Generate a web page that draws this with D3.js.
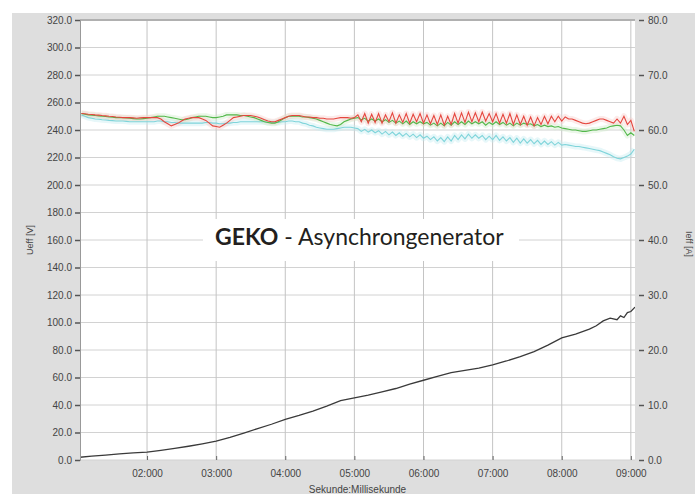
<!DOCTYPE html>
<html><head><meta charset="utf-8">
<script src="https://cdn.jsdelivr.net/npm/d3@7"></script>
<style>
html,body{margin:0;padding:0;background:#fff;}
svg{display:block;}
</style></head>
<body>
<svg id="chart" width="700" height="494"></svg>
<script>
// ---- data ----
const xTickValues = [2, 3, 4, 5, 6, 7, 8, 9];
const xTickLabels = ["02:000","03:000","04:000","05:000","06:000","07:000","08:000","09:000"];
const leftTicks = [0,20,40,60,80,100,120,140,160,180,200,220,240,260,280,300,320];
const rightTicks = [0,10,20,30,40,50,60,70,80];

// voltage samples (V), sampled every 0.05 s starting at 1.05 s (one row = one second)
const vStart = 1.05, vStep = 0.05;
const voltRed = [
 252,251.8,251.5,251.3,251,250.8,250.5,250.3,250,249.8,249.5,249.3,249,249,249,248.8,248.5,248.8,249,249,
 249,249,249,248,246,244.5,243,244,245,246.5,248,248.5,249,249,249,248,247,245,243,242.5,
 242,243.5,245,247,249,249.5,250,250.5,250.5,250.5,250,249.5,248.5,247.5,246.5,246,246,247,248,249,
 250,250.5,250.5,250.5,250,249.5,249.5,249,249,248.5,248.5,248,248,248,248.5,249,249,249,248.5,249,
 251,246,252,245,251.5,245.5,252,245,251,246,252.5,245,251,245.5,252,245,251.5,246,252,245,
 251,244.5,250.5,244,251,243.5,250,244,252,245,252.5,245.5,253,246,252.5,246,253,246.5,252,246,
 252,245,251.5,245,252,244,251,244,250,243.5,249.5,243,249,244,250,244.5,250,246,250,246.5,
 249.5,248,248,247,246,245,244.5,245,246,247,248,248,247,246,245,248,245,250,244,247,
 239];
const voltGreen = [
 252,251.5,251,250.8,250.5,250.3,250,249.8,249.5,249.3,249,249,249,248.8,248.5,248.3,248,248,248.3,248.5,
 249,249.5,250,250,250,249.5,249,248.5,248,247.5,247.5,248,249,249.5,250,250,250,249.5,249,249,
 249.5,250,251,251,251,251,250.5,250.5,250,249.5,249,248,247,246,245.5,245,245,246,247.5,249,
 250,250,250,250,249.5,249.5,249,248.5,248,247,246,245,244,243.5,243,244,246,247,248,248.5,
 249,247.5,248.5,246.5,248,246.5,248,246,247.5,245.5,247,245,246.5,244.5,246.5,244,246,244.5,246,244.5,
 245.5,243.5,245,243,245,243,245.5,243.5,246,244,246,244,246.5,244.5,246,244.5,246,243.5,245.5,244,
 246,244,245.5,243.5,245,243,245,243.5,245,244,244.5,243,244,242.5,243.5,242.5,243,242,242.5,241.5,
 241,240.5,240,240,239.5,239,239,239.5,240,240,240.5,241,241.5,242.5,243,243.5,243,240,236,238,
 236];
const voltCyan = [
 251,250,249,248.5,248,247.8,247.5,247.3,247,246.8,246.5,246.5,246.5,246.3,246,246,246,246,246,246,
 246,246,246.5,246.5,246,246,245.5,245.5,245,245,245,245,245,245,245,245,245.5,245.5,245,245,
 244.5,244.5,245,245,245.5,245.5,246,246,246,246,246,246,246,246,245.5,245.5,245.5,245.5,246,246,
 246.5,246.5,246,246,245,244.5,243.5,243,242,241.5,241,240.5,240.5,240.5,241,241.5,242,242,242,241.5,
 241,239,240.5,238.5,240,238,239.5,237,239,236.5,238.5,236,238,235.5,237.5,235,237,234.5,236.5,234,
 235.5,233,235,232,234.5,231.5,235,232,236,233,236.5,233.5,237,234,236.5,234,236,233,235.5,233,
 236,232.5,235,232,234.5,231,234,230.5,233.5,230.5,233,230,232.5,229.5,232,229.5,231.5,229,231,229,
 229.5,229,228.5,228,228,227.5,227,226.5,226,225.5,225,224,223,222,220.5,219.5,219,220,221,222.5,
 226];

// current (A)
const curTimes = [1.03,1.2,1.4,1.6,1.8,2.0,2.2,2.4,2.6,2.8,3.0,3.2,3.4,3.6,3.8,4.0,4.2,4.4,4.6,4.8,5.0,5.2,5.4,5.6,5.8,6.0,6.2,6.4,6.6,6.8,7.0,7.2,7.4,7.6,7.8,8.0,8.2,8.4,8.5,8.6,8.7,8.8,8.85,8.9,8.95,9.0,9.06];
const curValues = [0.5,0.7,0.9,1.1,1.3,1.45,1.75,2.1,2.5,2.95,3.45,4.1,4.9,5.7,6.5,7.4,8.1,8.9,9.8,10.8,11.3,11.8,12.4,13.0,13.8,14.5,15.2,15.9,16.3,16.7,17.3,18.0,18.8,19.7,20.9,22.2,22.9,23.8,24.4,25.3,25.8,25.5,26.2,25.9,26.8,27.0,27.8];

// ---- layout ----
const svg = d3.select("#chart");
const L = 80, R = 635, T = 20, B = 460;

svg.append("rect").attr("x",12).attr("y",13).attr("width",683).attr("height",481).attr("fill","#dedede");
svg.append("rect").attr("x",L).attr("y",T).attr("width",R-L).attr("height",B-T).attr("fill","#fff");

const x = d3.scaleLinear().domain([1.03, 9.06]).range([L, R]);
const yL = d3.scaleLinear().domain([0, 320]).range([B, T]);
const yR = d3.scaleLinear().domain([0, 80]).range([B, T]);

// grid
const grid = svg.append("g");
grid.selectAll("line.h").data(leftTicks).join("line")
  .attr("x1",L).attr("x2",R).attr("y1",d=>yL(d)).attr("y2",d=>yL(d))
  .attr("stroke","#d2d2d2").attr("stroke-width",1);
grid.selectAll("line.v").data(xTickValues).join("line")
  .attr("y1",T).attr("y2",B).attr("x1",d=>x(d)).attr("x2",d=>x(d))
  .attr("stroke","#c4c4c4").attr("stroke-width",1);
svg.append("line").attr("x1",L).attr("x2",R).attr("y1",T).attr("y2",T).attr("stroke","#b0b0b0").attr("stroke-width",2);

svg.append("defs").append("clipPath").attr("id","clip")
  .append("rect").attr("x",L).attr("y",T).attr("width",R-L).attr("height",B-T);

const plot = svg.append("g").attr("clip-path","url(#clip)");

function vData(arr){ return arr.map((v,i)=>({t: vStart + i*vStep, v})); }
const vLine = d3.line().x(d=>x(d.t)).y(d=>yL(d.v));

const series = [
  {data: voltCyan, color: "#7fd4da", pale: "#c4ecef"},
  {data: voltGreen, color: "#52b84a", pale: "#cdebc7"},
  {data: voltRed, color: "#e5463e", pale: "#f7cdca"}
];
series.forEach(s=>{
  plot.append("path").datum(vData(s.data)).attr("d",vLine)
    .attr("fill","none").attr("stroke",s.pale).attr("stroke-width",6).attr("stroke-opacity",0.4)
    .attr("stroke-linejoin","round");
});
series.forEach(s=>{
  plot.append("path").datum(vData(s.data)).attr("d",vLine)
    .attr("fill","none").attr("stroke",s.color).attr("stroke-width",1.1);
});

const cLine = d3.line().x((d,i)=>x(curTimes[i])).y(d=>yR(d));
plot.append("path").datum(curValues).attr("d",cLine)
  .attr("fill","none").attr("stroke","#3a3a3a").attr("stroke-width",1.3);

// axes
const axFont = "Liberation Sans, Arial, sans-serif";
const gl = svg.append("g").attr("transform",`translate(${L},0)`)
  .call(d3.axisLeft(yL).tickValues(leftTicks).tickFormat(d3.format(".1f")).tickSize(5).tickPadding(3));
const gr = svg.append("g").attr("transform",`translate(${R+4},0)`)
  .call(d3.axisRight(yR).tickValues(rightTicks).tickFormat(d3.format(".1f")).tickSize(5).tickPadding(4));
const gx = svg.append("g").attr("transform",`translate(0,${B})`)
  .call(d3.axisBottom(x).tickValues(xTickValues).tickFormat((d,i)=>xTickLabels[i]).tickSize(-4).tickPadding(10));
[gl,gr,gx].forEach(g=>{
  g.selectAll("text").attr("font-family",axFont).attr("font-size",10).attr("fill","#444");
  g.selectAll(".tick line").attr("stroke","#555").attr("stroke-width",1.5);
});
gl.select(".domain").attr("stroke","#999");
gr.select(".domain").remove();
gx.select(".domain").remove();
gx.selectAll(".tick line").attr("stroke","#666").attr("stroke-width",1);

// axis titles
svg.append("text").attr("transform","translate(33,240) rotate(-90)")
  .attr("text-anchor","middle").attr("font-family",axFont).attr("font-size",9).attr("fill","#444").text("Ueff [V]");
svg.append("text").attr("transform","translate(686,244) rotate(90)")
  .attr("text-anchor","middle").attr("font-family",axFont).attr("font-size",9).attr("fill","#444").text("Ieff [A]");
svg.append("text").attr("x",(L+R)/2).attr("y",493)
  .attr("text-anchor","middle").attr("font-family",axFont).attr("font-size",10).attr("fill","#444").text("Sekunde:Millisekunde");

// title box
svg.append("rect").attr("x",203).attr("y",219).attr("width",316).attr("height",42).attr("fill","#fff");
const title = svg.append("text").attr("x",215).attr("y",245)
  .attr("font-family","Lato, 'Open Sans', sans-serif").attr("font-size",23).attr("fill","#231f20");
title.append("tspan").attr("font-weight","bold").text("GEKO");
title.append("tspan").text(" - Asynchrongenerator");
</script>
</body></html>
